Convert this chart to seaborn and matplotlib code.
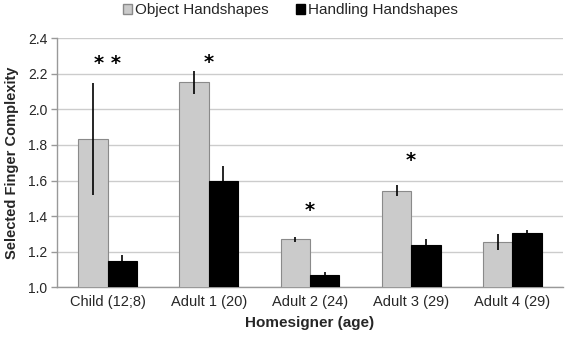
import matplotlib
matplotlib.use("Agg")
import matplotlib.pyplot as plt
import seaborn as sns
import pandas as pd
import numpy as np
from matplotlib.patches import Patch

categories = ["Child (12;8)", "Adult 1 (20)", "Adult 2 (24)", "Adult 3 (29)", "Adult 4 (29)"]
series = ["Object Handshapes", "Handling Handshapes"]
object_vals = [1.835, 2.152, 1.268, 1.543, 1.255]
object_err = [0.315, 0.065, 0.016, 0.030, 0.045]
handling_vals = [1.148, 1.600, 1.067, 1.235, 1.302]
handling_err = [0.033, 0.080, 0.016, 0.037, 0.017]
stars = ["* *", "*", "*", "*", ""]
star_y = [2.26, 2.265, 1.43, 1.71, 0]

sns.set_style("white")
plt.rcParams['font.family'] = ['Liberation Sans', 'DejaVu Sans']

df = pd.DataFrame({
    "cat": categories * 2,
    "series": [series[0]] * 5 + [series[1]] * 5,
    "val": object_vals + handling_vals,
})

fig = plt.figure(figsize=(5.67, 3.43), dpi=100)
ax = fig.add_axes([0.1005, 0.163, 0.8925, 0.725])

palette = {series[0]: "#cbcbcb", series[1]: "#000000"}
sns.barplot(data=df, x="cat", y="val", hue="series", palette=palette,
            errorbar=None, width=0.58, ax=ax, legend=False, zorder=3)

errs = {series[0]: object_err, series[1]: handling_err}
vals = {series[0]: object_vals, series[1]: handling_vals}
for cont, s in zip(ax.containers, series):
    xs = [p.get_x() + p.get_width() / 2 for p in cont]
    for p in cont:
        p.set_edgecolor("#8a8a8a" if s == series[0] else "#000000")
        p.set_linewidth(0.8)
    ax.errorbar(xs, vals[s], yerr=errs[s], fmt="none", ecolor="black",
                elinewidth=1.2, capsize=0, zorder=4)

for i, (st, y) in enumerate(zip(stars, star_y)):
    if st:
        ax.text(i, y, st, ha="center", va="center", fontsize=14, color="black",
                fontweight="bold", family="DejaVu Sans")

ax.set_ylim(1.0, 2.4)
ax.set_yticks(np.arange(1.0, 2.41, 0.2))
ax.set_yticklabels([f"{v:.1f}" for v in np.arange(1.0, 2.41, 0.2)], fontsize=10)
ax.set_xlim(-0.5, 4.5)
ax.set_xticks(range(5))
ax.set_xticklabels(categories, fontsize=10.5)
ax.set_xticks(np.arange(-0.5, 4.51, 1.0), minor=True)
ax.tick_params(axis="x", which="major", length=0, pad=6)
ax.tick_params(axis="x", which="minor", length=4, direction="out", color="#999999", width=1)
ax.tick_params(axis="y", length=4, direction="out", color="#999999", width=1, pad=3, left=True)
ax.grid(axis="y", color="#cccccc", linewidth=1, zorder=0)
ax.set_axisbelow(True)
for side in ["top", "right"]:
    ax.spines[side].set_visible(False)
for side in ["left", "bottom"]:
    ax.spines[side].set_color("#999999")
    ax.spines[side].set_linewidth(1)

ax.set_xlabel("Homesigner (age)", fontsize=11, fontweight="bold", labelpad=5)
ax.set_ylabel("Selected Finger Complexity", fontsize=10.5, fontweight="bold", labelpad=6)

handles = [Patch(facecolor="#cbcbcb", edgecolor="#8a8a8a", label=series[0]),
           Patch(facecolor="black", edgecolor="black", label=series[1])]
fig.legend(handles=handles, loc="upper center", bbox_to_anchor=(0.512, 1.03), ncol=2,
           frameon=False, fontsize=11, handlelength=0.6, handleheight=0.6,
           handletextpad=0.2, columnspacing=1.8)

fig.savefig("out.png", dpi=100)
